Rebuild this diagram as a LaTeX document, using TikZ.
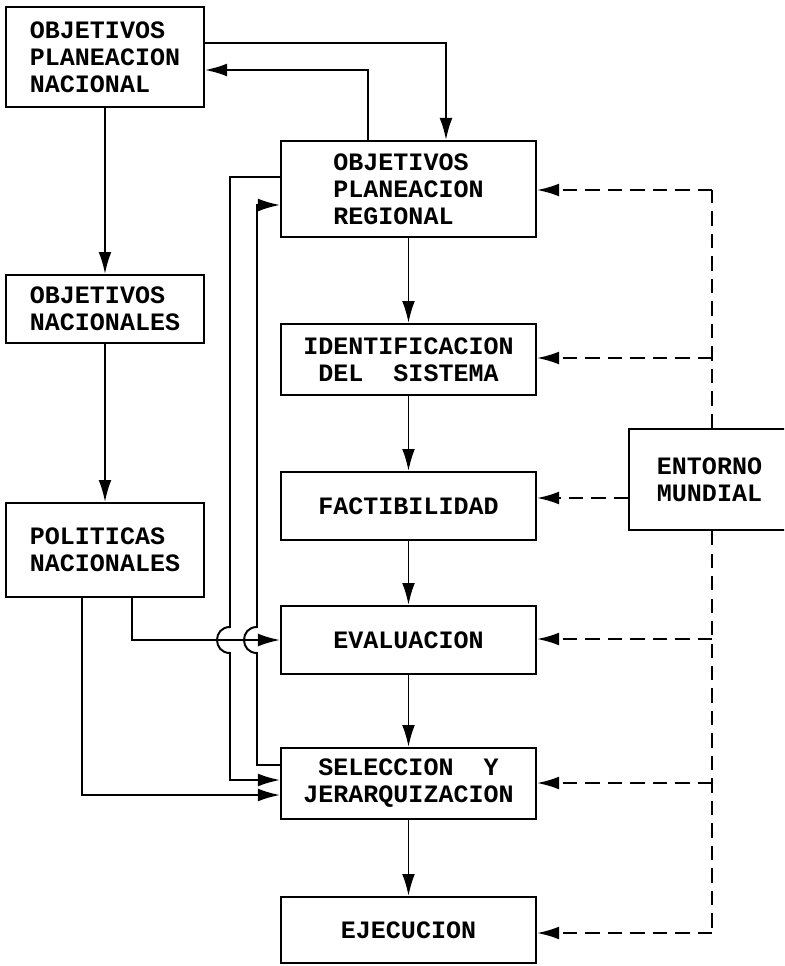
\documentclass[tikz,border=0pt]{standalone}
\usepackage{fontspec}
\setmonofont{Liberation Mono}
\usetikzlibrary{arrows.meta}

\begin{document}
\begin{tikzpicture}[
    x=0.025cm, y=-0.025cm,
    line width=1.4pt,
    font=\fontsize{17.8}{19.2}\selectfont\ttfamily\bfseries,
    arr/.style={-{Latex[length=5.5mm,width=3.2mm]}},
    box/.style={draw, rectangle, inner sep=0pt, align=left},
    lcol/.style={box, minimum width=4.95cm},
    rcol/.style={box, minimum width=6.375cm, align=center},
    dsh/.style={dash pattern=on 10pt off 6pt},
]
% coordinates are pixels of the page, y grows downwards
\useasboundingbox (0,0) rectangle (784,966);
\clip (0,0) rectangle (784,966);

% left column
\node[lcol, minimum height=2.5cm]  (opn)  at (105,57)  {OBJETIVOS\\PLANEACION\\NACIONAL};
\node[lcol, minimum height=1.7cm]  (onac) at (105,309) {OBJETIVOS\\NACIONALES};
\node[lcol, minimum height=2.35cm] (pol)  at (105,550) {POLITICAS\\NACIONALES};

% right column
\node[rcol, align=left, minimum height=2.4cm] (opr) at (408.5,189) {OBJETIVOS\\PLANEACION\\REGIONAL};
\node[rcol, minimum height=1.775cm] (ide) at (408.5,359.5) {IDENTIFICACION\\DEL~~SISTEMA};
\node[rcol, minimum height=1.7cm]   (fac) at (408.5,506)   {FACTIBILIDAD};
\node[rcol, minimum height=1.7cm]   (eva) at (408.5,640)   {EVALUACION};
\node[rcol, minimum height=1.775cm] (sel) at (408.5,783.5) {SELECCION~~Y\\JERARQUIZACION};
\node[rcol, minimum height=1.65cm]  (eje) at (408.5,930)   {EJECUCION};

% entorno (runs off the right edge)
\node[box, minimum width=4.025cm, minimum height=2.525cm] (ent) at (709.5,479.5) {ENTORNO\\MUNDIAL};

% national chain
\draw[arr] (opn.south) -- (onac.north);
\draw[arr] (onac.south) -- (pol.north);

% regional chain
\foreach \a/\b in {opr/ide, ide/fac, fac/eva, eva/sel, sel/eje}
    \draw[arr] (\a.south) -- (\b.north);

% national <-> regional
\draw[arr] (opn.east |- 0,43) -| (opr.north -| 446,0);
\draw[arr] (opr.north -| 368,0) |- (opn.east |- 0,70);

% politicas -> evaluacion, seleccion
\draw[arr] (pol.south -| 132,0) |- (eva.west);
\draw[arr] (pol.south -| 82,0) |- (sel.west |- 0,795);

% loops between regional and seleccion, hopping over the line at y=640
\draw[arr] (opr.west |- 0,177) -| (230,627)
    .. controls (212.7,627) and (212.7,653) .. (230,653) |- (sel.west |- 0,780);
\draw[arr] (sel.west |- 0,765) -| (257,653)
    .. controls (239.7,653) and (239.7,627) .. (257,627) |- (opr.west |- 0,205);

% entorno mundial, dashed
\coordinate (d1) at (712,190);
\coordinate (d2) at (712,358);
\coordinate (d4) at (712,639);
\coordinate (d5) at (712,783);
\coordinate (d6) at (712,933);
\draw[dsh] (ent.north -| d1) -- (d1);
\draw[dsh] (ent.south -| d6) -- (d6);
\foreach \c/\n in {d1/opr, d2/ide, d4/eva, d5/sel, d6/eje}
    \draw[dsh, arr] (\c) -- (\n.east |- \c);
\draw[dsh, arr] (ent.west |- 0,498) -- (fac.east |- 0,498);

\end{tikzpicture}
\end{document}
